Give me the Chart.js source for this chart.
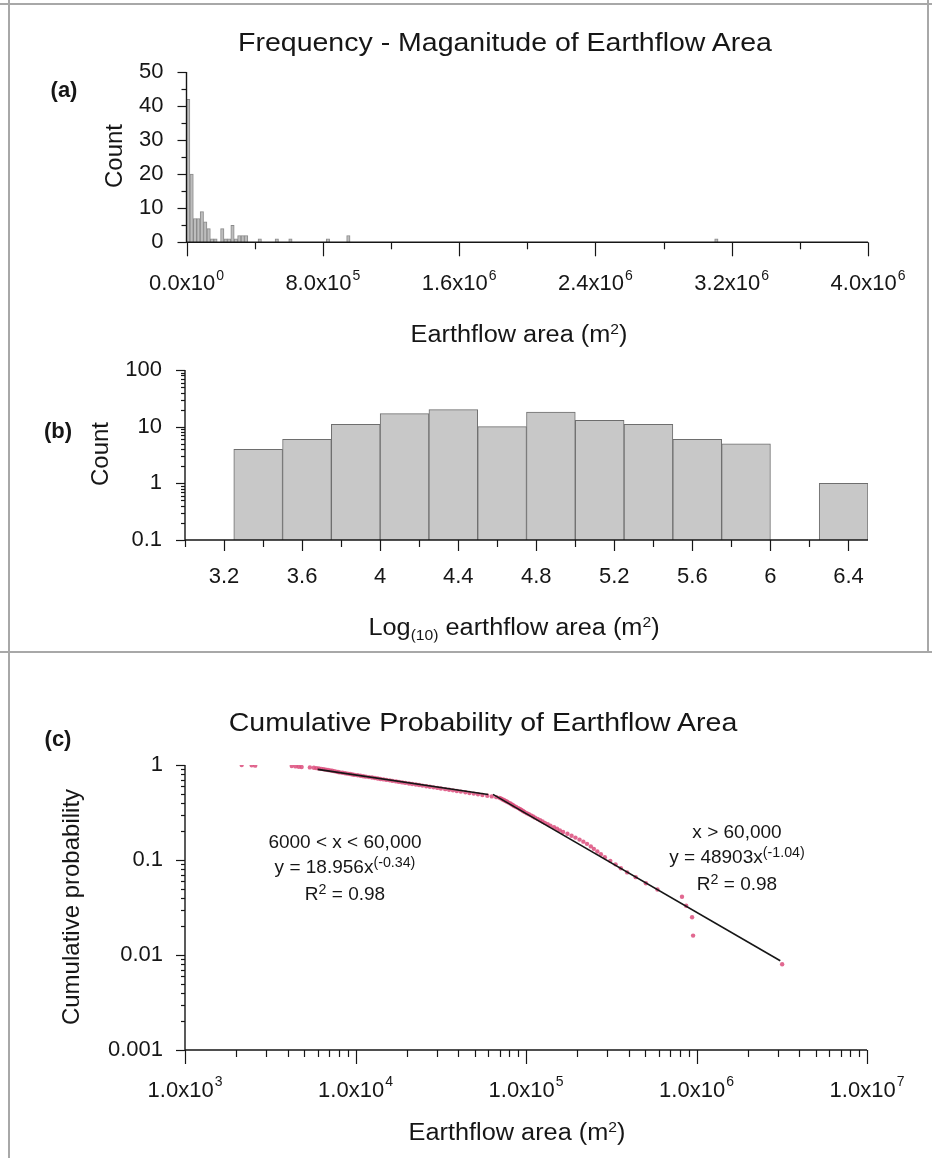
<!DOCTYPE html>
<html>
<head>
<meta charset="utf-8">
<script src="https://cdn.jsdelivr.net/npm/chart.js@4.4.1/dist/chart.umd.min.js"></script>
<style>
  body { margin: 0; background: #fff; }
  #page { position: relative; width: 932px; height: 1158px; overflow: hidden; background: #fff;
          font-family: "Liberation Sans", Arial, sans-serif; color: #161616; }
  canvas { position: absolute; left: 0; }
  .t { position: absolute; white-space: nowrap; line-height: 1; transform: translate(-50%, -50%); }
  .title { font-size: 25px; transform: translate(-50%, -50%) scaleX(1.14); }
  .axt { font-size: 23px; transform: translate(-50%, -50%) scaleX(1.1); }
  .yt { font-size: 24px; transform: translate(-50%, -50%) rotate(-90deg); }
  .pl { font-size: 22px; font-weight: bold; }
  .note { font-size: 19px; line-height: 25px; text-align: center; }
  .sup { font-size: 0.62em; position: relative; top: -0.55em; }
  .note .sup { font-size: 0.75em; top: -0.45em; }
  .sub { font-size: 0.62em; position: relative; top: 0.35em; }
  .rule { position: absolute; background: #a8a8a8; }
</style>
</head>
<body>
<div id="page">
  <div class="rule" style="left:0;top:3px;width:932px;height:2px"></div>
  <div class="rule" style="left:8px;top:0;width:2px;height:1158px"></div>
  <div class="rule" style="left:927px;top:0;width:2px;height:652px"></div>
  <div class="rule" style="left:0;top:651px;width:932px;height:2px"></div>

  <canvas id="chartA" width="932" height="330" style="top:0"></canvas>
  <canvas id="chartB" width="932" height="320" style="top:330px"></canvas>
  <canvas id="chartC" width="932" height="508" style="top:650px"></canvas>

  <div class="t title" style="left:505px;top:42px">Frequency - Maganitude of Earthflow Area</div>
  <div class="t pl" style="left:64px;top:90px">(a)</div>
  <div class="t yt" style="left:114px;top:156px">Count</div>
  <div class="t axt" style="left:519px;top:334px">Earthflow area (m<span class="sup">2</span>)</div>

  <div class="t pl" style="left:58px;top:431px">(b)</div>
  <div class="t yt" style="left:100px;top:454px">Count</div>
  <div class="t axt" style="left:514px;top:627px">Log<span class="sub">(10)</span> earthflow area (m<span class="sup">2</span>)</div>

  <div class="t title" style="left:483px;top:722px">Cumulative Probability of Earthflow Area</div>
  <div class="t pl" style="left:58px;top:739px">(c)</div>
  <div class="t yt" style="left:71px;top:907px">Cumulative probability</div>
  <div class="t axt" style="left:517px;top:1132px">Earthflow area (m<span class="sup">2</span>)</div>
  <div class="t note" style="left:345px;top:868px">6000 &lt; x &lt; 60,000<br>y = 18.956x<span class="sup">(-0.34)</span><br>R<span class="sup">2</span> = 0.98</div>
  <div class="t note" style="left:737px;top:858px">x &gt; 60,000<br>y = 48903x<span class="sup">(-1.04)</span><br>R<span class="sup">2</span> = 0.98</div>
</div>

<script>
// (a) histogram of earthflow area, 20,000 m2 bins (empty bins left out)
const binWidthA = 20000;
const areaBinStart = [0, 20000, 40000, 60000, 80000, 100000, 120000, 140000, 160000,
  200000, 220000, 240000, 260000, 280000, 300000, 320000, 340000,
  420000, 520000, 600000, 820000, 940000, 3100000];
const areaCount = [42, 20, 7, 7, 9, 6, 4, 1, 1,
  4, 1, 1, 5, 1, 2, 2, 2,
  1, 1, 1, 1, 2, 1];

// (b) histogram of log10 area, 0.25 bins
const binWidthB = 0.25;
const logBinStart = [3.25, 3.5, 3.75, 4.0, 4.25, 4.5, 4.75, 5.0, 5.25, 5.5, 5.75, 6.0, 6.25];
const logCount = [4, 6, 11, 17, 20, 10, 18, 13, 11, 6, 5, 0, 1];

// (c) cumulative probability, sorted by area
const cumArea = [2150, 2460, 2580, 4230, 4450, 4650, 4830, 5400, 5700, 5900,
  6100, 6300, 6500, 6700, 6900, 7100, 7300, 7500, 7700, 7900,
  8100, 8400, 8700, 9000, 9300, 9600, 9900, 10300, 10700, 11100,
  11500, 12000, 12500, 13000, 13500, 14000, 14600, 15200, 15900, 16500,
  17300, 18000, 18800, 19600, 20600, 21500, 22600, 23600, 24700, 26000,
  27300, 28700, 30200, 31700, 33600, 35400, 37300, 39300, 41500, 44100,
  46600, 49400, 52300, 55500, 59300, 63000, 67000, 70000, 71500, 73000,
  74500, 76000, 77500, 79000, 81000, 82500, 84000, 85500, 87500, 90000,
  92000, 94000, 96000, 98000, 101000, 104000, 107000, 110000, 113000, 117000,
  121000, 125000, 129000, 134000, 139000, 146000, 152000, 158000, 165000, 175000,
  185000, 195000, 206000, 217000, 228000, 240000, 250000, 262000, 275000, 290000,
  312000, 335000, 360000, 392000, 440000, 505000, 590000, 822000, 870000, 942000,
  955000, 3180000];
const cumProb = [1.000, 0.992, 0.984, 0.975, 0.967, 0.959, 0.951, 0.943, 0.934, 0.926,
  0.918, 0.910, 0.902, 0.893, 0.885, 0.877, 0.869, 0.861, 0.852, 0.844,
  0.836, 0.828, 0.820, 0.811, 0.803, 0.795, 0.787, 0.779, 0.770, 0.762,
  0.754, 0.746, 0.738, 0.730, 0.721, 0.713, 0.705, 0.697, 0.689, 0.680,
  0.672, 0.664, 0.656, 0.648, 0.639, 0.631, 0.623, 0.615, 0.607, 0.598,
  0.590, 0.582, 0.574, 0.566, 0.557, 0.549, 0.541, 0.533, 0.525, 0.516,
  0.508, 0.500, 0.492, 0.484, 0.475, 0.467, 0.459, 0.451, 0.443, 0.434,
  0.426, 0.418, 0.410, 0.402, 0.393, 0.385, 0.377, 0.369, 0.361, 0.352,
  0.344, 0.336, 0.328, 0.320, 0.311, 0.303, 0.295, 0.287, 0.279, 0.270,
  0.262, 0.254, 0.246, 0.238, 0.230, 0.221, 0.213, 0.205, 0.197, 0.189,
  0.180, 0.172, 0.164, 0.156, 0.148, 0.139, 0.131, 0.123, 0.115, 0.107,
  0.098, 0.090, 0.082, 0.074, 0.066, 0.057, 0.049, 0.041, 0.033, 0.025,
  0.016, 0.008];

// power-law fits as drawn
const fitLowArea = [6000, 60000];
const fitLowProb = [0.90, 0.49];
const fitHighArea = [64000, 3100000];
const fitHighProb = [0.49, 0.0087];

// tick values and labels ("^" marks the exponent)
const ticksAx = [0, 800000, 1600000, 2400000, 3200000, 4000000];
const labelsAx = ['0.0x10^0', '8.0x10^5', '1.6x10^6', '2.4x10^6', '3.2x10^6', '4.0x10^6'];
const minorAx = [400000, 1200000, 2000000, 2800000, 3600000];
const ticksAy = [0, 10, 20, 30, 40, 50];
const minorAy = [5, 15, 25, 35, 45];
const ticksBx = [3.2, 3.6, 4.0, 4.4, 4.8, 5.2, 5.6, 6.0, 6.4];
const labelsBx = ['3.2', '3.6', '4', '4.4', '4.8', '5.2', '5.6', '6', '6.4'];
const minorBx = [3.0, 3.4, 3.8, 4.2, 4.6, 5.0, 5.4, 5.8, 6.2];
const ticksBy = [0.1, 1, 10, 100];
const labelsBy = ['0.1', '1', '10', '100'];
const ticksCx = [1e3, 1e4, 1e5, 1e6, 1e7];
const labelsCx = ['1.0x10^3', '1.0x10^4', '1.0x10^5', '1.0x10^6', '1.0x10^7'];
const ticksCy = [0.001, 0.01, 0.1, 1];
const labelsCy = ['0.001', '0.01', '0.1', '1'];

const INK = '#161616';
const FONT = '"Liberation Sans", Arial, sans-serif';

function logMinors(decades) {
  const out = [];
  for (let i = 0; i < decades.length - 1; i++) {
    for (let m = 2; m <= 9; m++) out.push(decades[i] * m);
  }
  return out;
}

// axis lines, tick marks and tick labels drawn onto each chart's own scales
function axisMarks(axes) {
  return {
    id: 'axisMarks',
    afterDraw(chart) {
      const ctx = chart.ctx, area = chart.chartArea;
      ctx.save();
      ctx.strokeStyle = INK;
      ctx.fillStyle = INK;
      ctx.lineWidth = 1.4;
      ctx.beginPath();
      ctx.moveTo(area.left, area.top);
      ctx.lineTo(area.left, area.bottom);
      ctx.lineTo(area.right, area.bottom);
      ctx.stroke();

      axes.forEach(ax => {
        const s = chart.scales[ax.id];
        const horiz = s.isHorizontal();
        ctx.lineWidth = 1.2;
        const mark = (v, len) => {
          const p = Math.round(s.getPixelForValue(v)) + 0.5;
          ctx.beginPath();
          if (horiz) { ctx.moveTo(p, area.bottom); ctx.lineTo(p, area.bottom + len); }
          else { ctx.moveTo(area.left, p); ctx.lineTo(area.left - len, p); }
          ctx.stroke();
        };
        ax.minor.forEach(v => mark(v, ax.minorLen));
        ax.major.forEach(v => mark(v, ax.majorLen));

        ctx.textBaseline = 'middle';
        ax.major.forEach((v, i) => {
          const p = s.getPixelForValue(v);
          const parts = ax.labels[i].split('^');
          ctx.font = ax.size + 'px ' + FONT;
          const wb = ctx.measureText(parts[0]).width;
          let ws = 0;
          if (parts[1]) {
            ctx.font = Math.round(ax.size * 0.62) + 'px ' + FONT;
            ws = ctx.measureText(parts[1]).width + 1;
          }
          let x, y;
          if (horiz) { x = p - (wb + ws) / 2; y = area.bottom + ax.gap; }
          else { x = area.left - ax.gap - wb - ws; y = p; }
          ctx.textAlign = 'left';
          ctx.font = ax.size + 'px ' + FONT;
          ctx.fillText(parts[0], x, y);
          if (parts[1]) {
            ctx.font = Math.round(ax.size * 0.62) + 'px ' + FONT;
            ctx.fillText(parts[1], x + wb + 1, y - ax.size * 0.38);
          }
        });
      });
      ctx.restore();
    }
  };
}

function fixedScale(opts, size, horizontal) {
  return Object.assign({
    display: true,
    offset: false,
    grid: { display: false, offset: false },
    border: { display: false },
    ticks: { display: false },
    afterBuildTicks: s => { s.ticks = [{ value: s.min }, { value: s.max }]; },
    afterFit: s => { if (horizontal) s.height = size; else s.width = size; }
  }, opts);
}

const common = {
  responsive: false,
  animation: false,
  events: [],
  plugins: { legend: { display: false }, tooltip: { enabled: false } }
};

// (a)
new Chart(document.getElementById('chartA'), {
  type: 'bar',
  data: {
    datasets: [{
      data: areaBinStart.map((b, i) => ({ x: b + binWidthA / 2, y: areaCount[i] })),
      backgroundColor: '#bdbdbd',
      borderColor: '#8a8a8a',
      borderWidth: 1,
      barPercentage: 1,
      categoryPercentage: 1
    }]
  },
  options: Object.assign({}, common, {
    layout: { padding: { top: 72, right: 64, bottom: 0, left: 0 } },
    scales: {
      x: fixedScale({ type: 'linear', min: 0, max: 4000000 }, 87.7, true),
      y: fixedScale({ type: 'linear', min: 0, max: 50 }, 186.5, false)
    }
  }),
  plugins: [axisMarks([
    { id: 'x', major: ticksAx, minor: minorAx, labels: labelsAx, majorLen: 14, minorLen: 7, gap: 42, size: 22 },
    { id: 'y', major: ticksAy, minor: minorAy, labels: ticksAy.map(String), majorLen: 9, minorLen: 5, gap: 23, size: 22 }
  ])]
});

// (b)
new Chart(document.getElementById('chartB'), {
  type: 'bar',
  data: {
    datasets: [{
      data: logBinStart.map((b, i) => ({ x: b + binWidthB / 2, y: logCount[i] > 0 ? logCount[i] : null })),
      backgroundColor: '#c8c8c8',
      borderColor: '#6e6e6e',
      borderWidth: 1,
      barPercentage: 1,
      categoryPercentage: 1
    }]
  },
  options: Object.assign({}, common, {
    layout: { padding: { top: 40, right: 64, bottom: 0, left: 0 } },
    scales: {
      x: fixedScale({ type: 'linear', min: 3.0, max: 6.5 }, 110, true),
      y: fixedScale({ type: 'logarithmic', min: 0.1, max: 100 }, 185, false)
    }
  }),
  plugins: [axisMarks([
    { id: 'x', major: ticksBx, minor: minorBx, labels: labelsBx, majorLen: 11, minorLen: 7, gap: 37, size: 22 },
    { id: 'y', major: ticksBy, minor: logMinors(ticksBy), labels: labelsBy, majorLen: 9, minorLen: 4, gap: 23, size: 22 }
  ])]
});

// (c)
new Chart(document.getElementById('chartC'), {
  type: 'scatter',
  data: {
    datasets: [
      {
        data: fitLowArea.map((a, i) => ({ x: a, y: fitLowProb[i] })),
        showLine: true, borderColor: INK, borderWidth: 1.6, pointRadius: 0
      },
      {
        data: fitHighArea.map((a, i) => ({ x: a, y: fitHighProb[i] })),
        showLine: true, borderColor: INK, borderWidth: 1.6, pointRadius: 0
      },
      {
        data: cumArea.map((a, i) => ({ x: a, y: cumProb[i] })),
        showLine: false, pointRadius: 2.2, borderWidth: 0,
        backgroundColor: 'rgba(220, 78, 124, 0.85)'
      }
    ]
  },
  options: Object.assign({}, common, {
    layout: { padding: { top: 115, right: 65, bottom: 0, left: 0 } },
    scales: {
      x: fixedScale({ type: 'logarithmic', min: 1000, max: 10000000 }, 108, true),
      y: fixedScale({ type: 'logarithmic', min: 0.001, max: 1 }, 185, false)
    }
  }),
  plugins: [axisMarks([
    { id: 'x', major: ticksCx, minor: logMinors(ticksCx), labels: labelsCx, majorLen: 14, minorLen: 7, gap: 41, size: 22 },
    { id: 'y', major: ticksCy, minor: logMinors(ticksCy), labels: labelsCy, majorLen: 9, minorLen: 4, gap: 22, size: 22 }
  ])]
});
</script>
</body>
</html>
